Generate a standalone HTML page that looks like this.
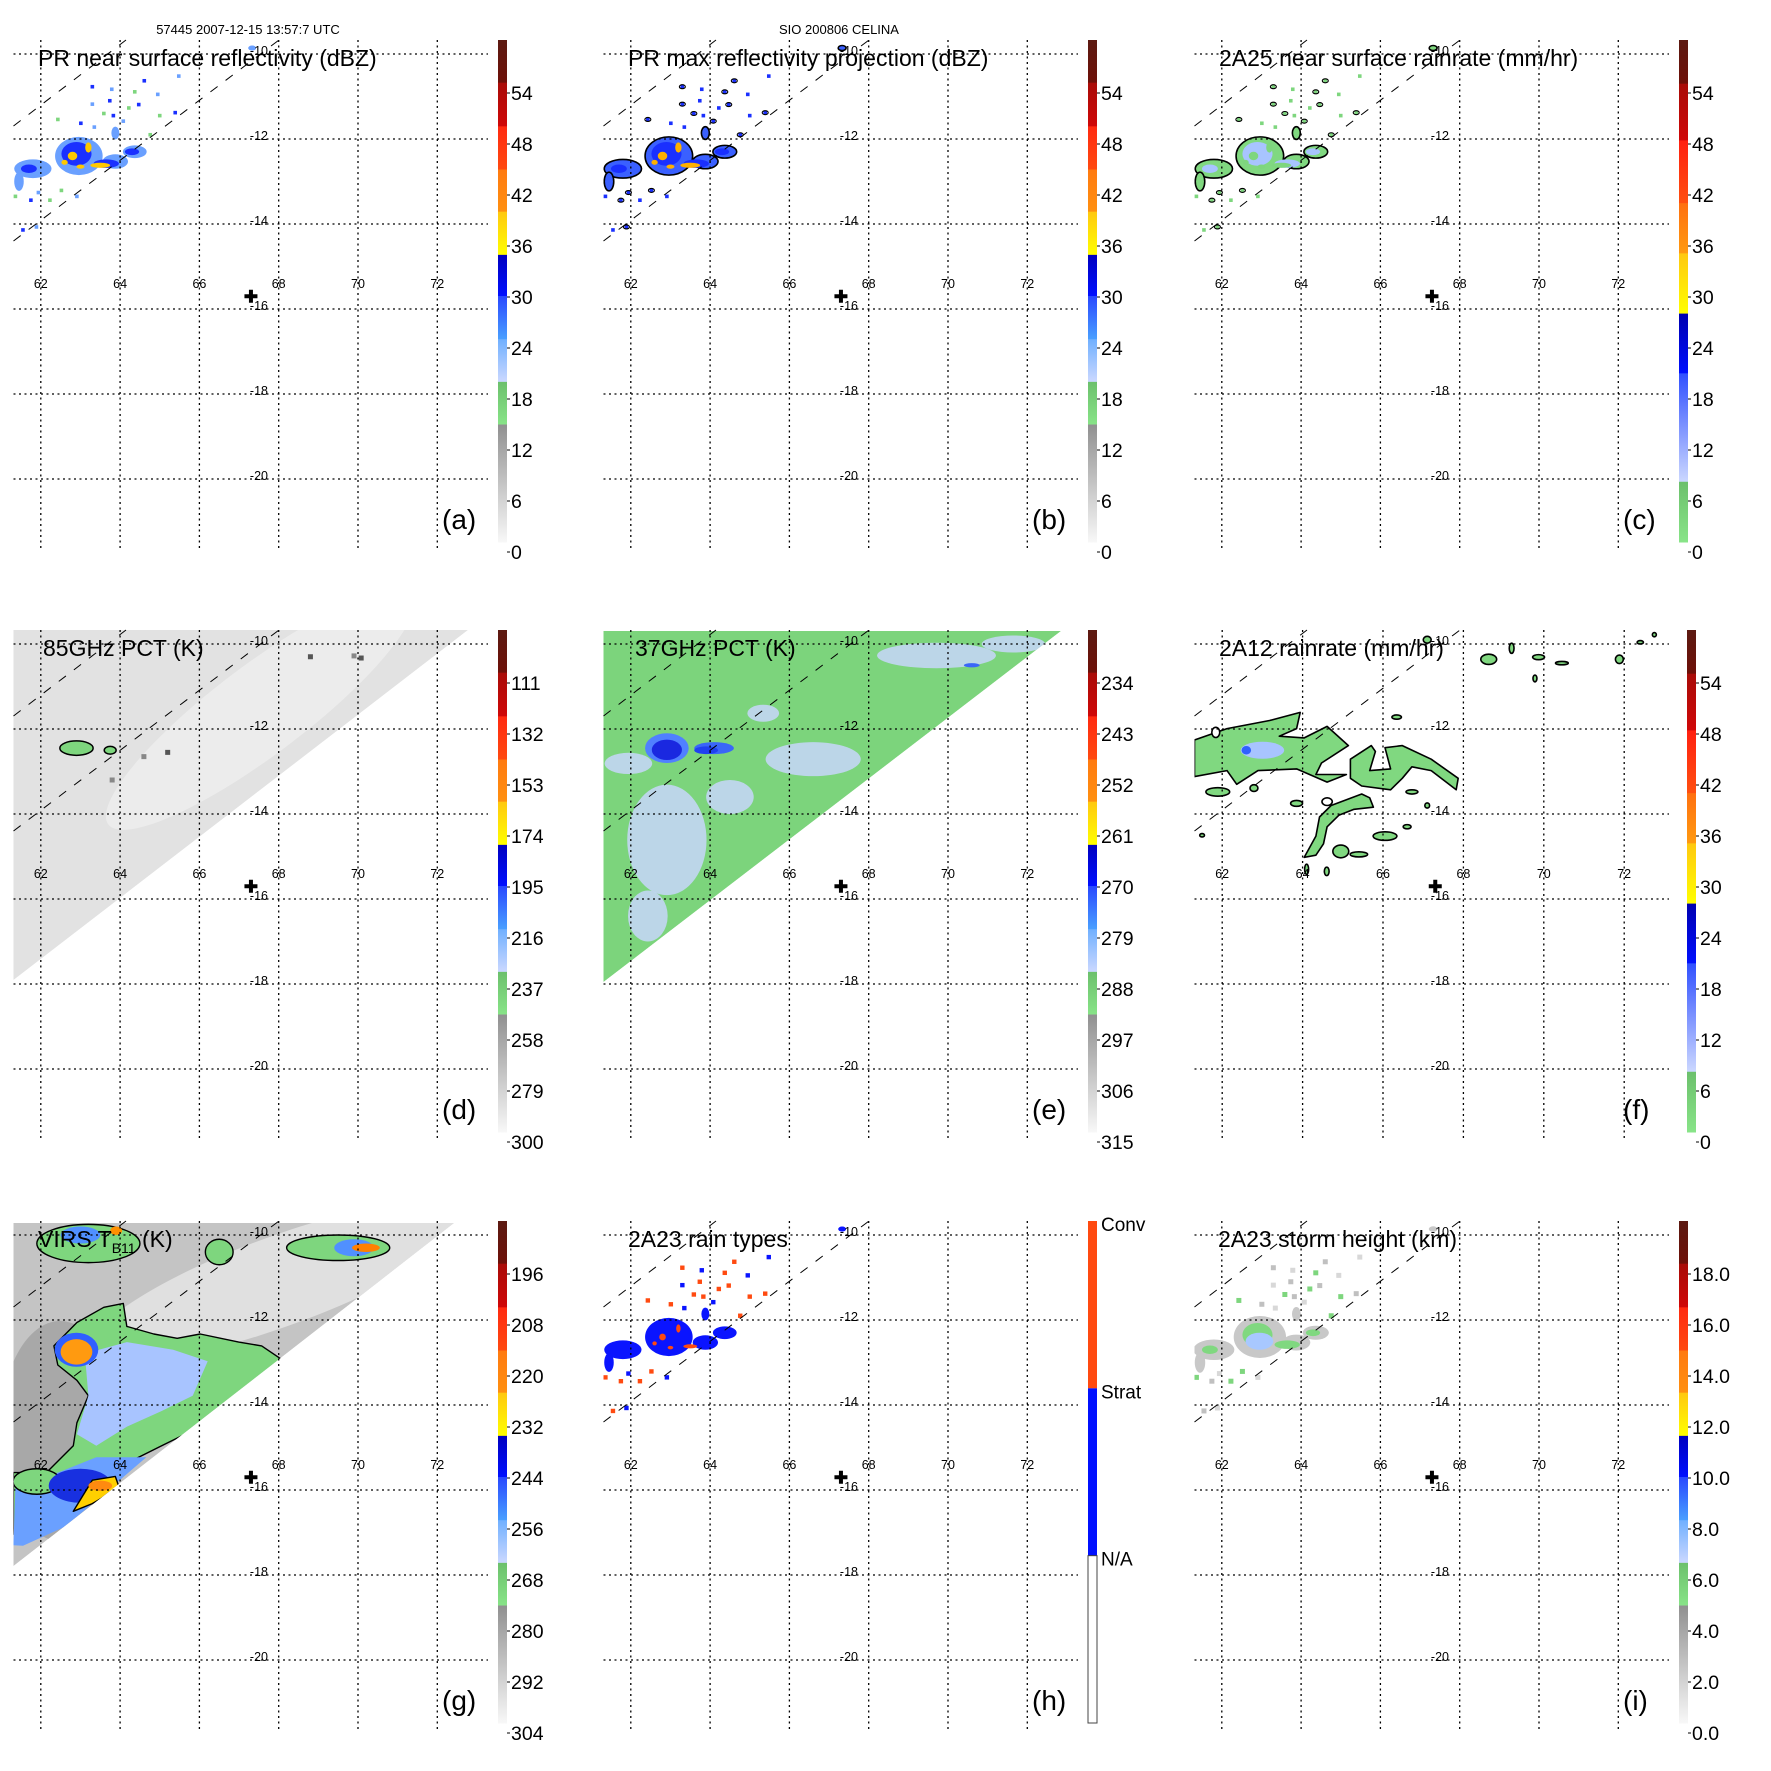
<!DOCTYPE html>
<html><head><meta charset="utf-8">
<style>
html,body{margin:0;padding:0;background:#fff;}
svg{display:block;font-family:"Liberation Sans",Arial,sans-serif;}
</style></head>
<body>
<svg id="fig" width="1771" height="1771" viewBox="0 0 1771 1771" xmlns="http://www.w3.org/2000/svg">
<text x="248" y="34" font-size="13" text-anchor="middle">57445 2007-12-15 13:57:7 UTC</text>
<text x="839" y="34" font-size="13" text-anchor="middle">SIO 200806 CELINA</text>
</svg>
<script>
// ---------- data arrays ----------
const lonTicks = [62, 64, 66, 68, 70, 72];
const latTicks = [-10, -12, -14, -16, -18, -20];
const stormCenter = [67.3, -15.7];

const cbLabelsDbz = ['54','48','42','36','30','24','18','12','6','0'];
const cbLabels85 = ['111','132','153','174','195','216','237','258','279','300'];
const cbLabels37 = ['234','243','252','261','270','279','288','297','306','315'];
const cbLabelsIr = ['196','208','220','232','244','256','268','280','292','304'];
const cbLabelsHt = ['18.0','16.0','14.0','12.0','10.0','8.0','6.0','4.0','2.0','0.0'];
const cbLabelsType = ['Conv','Strat','N/A'];

// PR rain blobs [lon, lat, rxDeg, ryDeg]
const prArea = [[62.96,-12.40,0.6,0.45],[63.88,-12.53,0.32,0.17],[64.37,-12.3,0.3,0.15],[61.8,-12.7,0.47,0.22],[63.88,-11.86,0.1,0.15],[61.45,-13.0,0.12,0.22],[67.33,-9.86,0.1,0.06]];
const prCore = [[62.9,-12.35,0.38,0.28],[63.65,-12.58,0.32,0.1],[64.3,-12.3,0.18,0.08],[61.7,-12.7,0.2,0.1]];
const prHot = [[62.8,-12.4,0.12,0.1],[63.2,-12.2,0.08,0.12],[63.5,-12.62,0.25,0.06],[62.6,-12.55,0.08,0.06],[63.0,-12.65,0.1,0.05]];
const prSpecks = [[63.30,-10.77],[63.79,-10.83],[64.37,-10.89],[63.74,-11.10],[63.30,-11.18],[64.22,-11.27],[64.47,-11.19],[64.95,-10.95],[63.59,-11.40],[63.83,-11.45],[64.08,-11.58],[65.00,-11.45],[65.39,-11.38],[63.35,-11.72],[62.43,-11.54],[63.01,-11.63],[61.94,-13.26],[62.23,-13.44],[61.75,-13.44],[62.91,-13.35],[62.52,-13.21],[61.55,-14.14],[61.89,-14.07],[61.36,-13.35],[64.61,-10.63],[65.48,-10.52],[64.76,-11.90]];

// 2A12 contour regions [lon,lat]
const f12Main = [[61.31,-12.26],[62.12,-11.99],[63.18,-11.80],[63.94,-11.61],[63.85,-11.99],[63.42,-12.17],[64.04,-12.21],[64.61,-11.94],[65.14,-12.39],[64.47,-12.80],[64.33,-13.07],[65.09,-13.07],[64.61,-13.25],[63.85,-12.94],[62.89,-12.98],[62.36,-13.30],[62.12,-12.98],[61.31,-13.12]];
const f12East = [[65.19,-12.71],[65.71,-12.39],[65.81,-12.53],[65.67,-12.98],[66.19,-12.94],[66.05,-12.44],[66.48,-12.39],[67.20,-12.71],[67.87,-13.16],[67.82,-13.43],[67.20,-12.98],[66.72,-12.89],[66.48,-13.16],[66.19,-13.43],[65.47,-13.34],[65.19,-13.16]];
const f12South = [[64.04,-15.02],[64.33,-14.52],[64.42,-14.07],[64.71,-13.80],[65.47,-13.53],[65.67,-13.62],[65.76,-13.84],[65.28,-13.89],[64.90,-14.03],[64.61,-14.30],[64.52,-14.70],[64.33,-14.97]];
const f12Small = [[61.89,-13.48,0.3,0.1],[62.79,-13.39,0.1,0.08],[63.85,-13.75,0.15,0.07],[64.95,-14.88,0.2,0.15],[65.4,-14.95,0.22,0.06],[66.05,-14.52,0.3,0.1],[66.6,-14.3,0.1,0.05],[66.34,-11.72,0.12,0.05],[67.1,-9.9,0.1,0.08],[68.63,-10.36,0.2,0.12],[69.2,-10.1,0.06,0.12],[69.87,-10.31,0.15,0.06],[70.45,-10.45,0.16,0.04],[69.78,-10.81,0.05,0.08],[71.88,-10.36,0.1,0.1],[72.4,-9.96,0.08,0.04],[72.75,-9.78,0.05,0.05],[66.72,-13.48,0.15,0.05],[67.1,-13.8,0.06,0.06],[64.1,-15.3,0.05,0.12],[64.6,-15.35,0.06,0.1],[61.5,-14.5,0.06,0.04]];

// 37 GHz light-blue regions [lon,lat,rx,ry]
const e37Light = [[62.91,-14.61,1.0,1.3],[62.43,-16.4,0.5,0.6],[66.6,-12.71,1.2,0.4],[69.71,-10.27,1.5,0.3],[71.65,-10.0,0.8,0.2],[61.94,-12.81,0.6,0.25],[65.34,-11.63,0.4,0.2],[64.5,-13.6,0.6,0.4]];
const e37Blue = [[62.91,-12.45,0.55,0.35,'#5080ff'],[64.1,-12.45,0.5,0.14,'#3a66f8'],[62.91,-12.49,0.38,0.24,'#1a28e0'],[63.9,-12.5,0.3,0.09,'#2040f0'],[70.6,-10.5,0.2,0.05,'#3a66f8']];

// VIRS regions
const gGreen = [[62.33,-12.61],[62.91,-12.06],[63.59,-11.70],[64.08,-11.61],[64.17,-12.15],[64.85,-12.33],[65.44,-12.43],[66.02,-12.33],[66.99,-12.52],[67.57,-12.61],[68.06,-12.92],[67.28,-13.78],[66.02,-14.51],[65.05,-14.96],[64.08,-15.41],[63.20,-15.86],[62.43,-16.41],[61.75,-16.86],[61.31,-17.04],[61.31,-15.59],[62.14,-15.59],[62.82,-14.96],[62.91,-14.42],[63.20,-13.78],[62.91,-13.42],[62.43,-13.06]];
const gBlue1 = [[63.11,-12.79],[64.17,-12.52],[65.34,-12.70],[66.21,-12.97],[65.83,-13.78],[65.05,-14.14],[64.17,-14.51],[63.40,-14.96],[62.91,-14.69],[63.20,-13.78]];
const gBlue2 = [[61.36,-15.95],[62.43,-15.59],[63.40,-15.23],[64.66,-15.23],[63.88,-15.86],[62.62,-16.86],[61.55,-17.31],[61.31,-17.3]];
const gOrange = [[62.82,-16.5],[63.30,-15.77],[63.88,-15.68],[63.98,-15.95],[63.30,-16.32]];
const gBlobs = [[63.2,-10.2,1.3,0.45,'#7ed67e'],[63.0,-10.0,0.5,0.2,'#5090ff'],[63.9,-9.9,0.15,0.1,'#ff9000'],[66.5,-10.4,0.35,0.3,'#7ed67e'],[69.5,-10.3,1.3,0.3,'#7ed67e'],[69.9,-10.3,0.5,0.2,'#5090ff'],[70.2,-10.3,0.35,0.1,'#ff8000'],[61.9,-15.8,0.6,0.3,'#7ed67e'],[62.9,-12.7,0.55,0.4,'#3060ff'],[62.9,-12.75,0.4,0.3,'#ff9a10'],[63.0,-15.9,0.8,0.4,'#1830e0']];

// ---------- geometry ----------
const svg = document.getElementById('fig');
const NS = 'http://www.w3.org/2000/svg';
function el(tag, attrs, parent){
  const e = document.createElementNS(NS, tag);
  for (const k in attrs) e.setAttribute(k, attrs[k]);
  (parent||svg).appendChild(e);
  return e;
}
function mkX(p){ return lon => p.ox + p.x0 + (lon - 62) * p.dx; }
function mkY(p){ return lat => p.oy + 54 + (-10 - lat) * 42.5; }

const stdBands = [[0,.085,'#5c1a12','#6e1008'],[.085,.172,'#a80c08','#d00808'],[.172,.258,'#ff2a10','#ff4a10'],[.258,.342,'#ff7a10','#ff9010'],[.342,.428,'#ffc810','#ffff00'],[.428,.51,'#0000c0','#0010ff'],[.51,.596,'#2848ff','#4aa0ff'],[.596,.681,'#70b0ff','#ccd8ff'],[.681,.766,'#6cc06c','#88e488'],[.766,1,'#909090','#f8f8f8']];
const rainBands = [[0,.087,'#5c1a12','#6e1008'],[.087,.2,'#a80c08','#d00808'],[.2,.325,'#ff2010','#ff5010'],[.325,.425,'#ff7010','#ff9a10'],[.425,.545,'#ffc810','#ffff00'],[.545,.664,'#0000b0','#0010ff'],[.664,.88,'#3050ff','#ccd8ff'],[.88,1,'#6cc06c','#88e488']];

let gid = 0;
function panel(p){
  const X = mkX(p), Y = mkY(p);
  const g = el('g', {}); 
  
  
  const cid = 'clip' + (gid++);
  const cp = el('clipPath', {id: cid}, g);
  el('rect', {x: p.ox+13.5, y: p.oy+40, width: 475, height: 511}, cp);
  const data = el('g', {'clip-path': 'url(#'+cid+')'}, g);
  
  
  p.draw(data, X, Y);

  const grid = el('g', {stroke:'#000','stroke-width':1.3,'stroke-dasharray':'2,3.5',fill:'none'}, g);
  
  
  lonTicks.forEach(lon => el('line', {x1:X(lon), x2:X(lon), y1:p.oy+40, y2:p.oy+551}, grid));
  latTicks.forEach(lat => el('line', {x1:p.ox+13.5, x2:p.ox+488, y1:Y(lat), y2:Y(lat)}, grid));
  if (p.swath){
    const sw = el('g', {stroke:'#000','stroke-width':1,'stroke-dasharray':'9,10'}, g);
    
    
    el('line', {x1:p.ox+13.5, y1:p.oy+126, x2:p.ox+126, y2:p.oy+40}, sw);
    el('line', {x1:p.ox+13.5, y1:p.oy+241, x2:p.ox+279, y2:p.oy+40}, sw);
  }
  lonTicks.forEach(lon => {
    const t = el('text', {x:X(lon), y:p.oy+288, 'font-size':12.5, 'text-anchor':'middle'}, g);
    t.textContent = lon;
    
    
  });
  latTicks.forEach(lat => {
    const t = el('text', {x:p.ox+268, y:Y(lat)+1, 'font-size':12.5, 'text-anchor':'end'}, g);
    t.textContent = lat;
    
    
  });
  const cx = X(stormCenter[0]), cy = Y(stormCenter[1]);
  const cr = el('path', {d:`M${cx-6.5},${cy}H${cx+6.5}M${cx},${cy-6.5}V${cy+6.5}`, stroke:'#000','stroke-width':4}, g);
  
  
  const tt = el('text', {x:p.ox+p.tx, y:p.oy+66, 'font-size':23}, g);
  tt.innerHTML = p.title;
  
  
  const lt = el('text', {x:p.ox+442, y:p.oy+529, 'font-size':28}, g);
  lt.textContent = '(' + p.letter + ')';
  
  
  const cb = el('g', {}, g);
  
  
  const bx = p.ox + p.cbx, by = p.oy + 40, bh = 502, bw = 9;
  if (p.type){
    el('rect', {x:bx, y:by, width:bw, height:bh/3, fill:'#ff4a10'}, cb);
    el('rect', {x:bx, y:by+bh/3, width:bw, height:bh/3, fill:'#0010ff'}, cb);
    el('rect', {x:bx, y:by+2*bh/3, width:bw, height:bh/3, fill:'#fff', stroke:'#444','stroke-width':1}, cb);
    cbLabelsType.forEach((s,i) => {
      const t = el('text', {x:bx+13, y:by+10+i*bh/3, 'font-size':19}, cb);
      t.textContent = s;
      
      
    });
  } else {
    p.bands.forEach((b,i) => {
      const id = 'gr' + (gid++);
      const lg = el('linearGradient', {id:id, x1:0, y1:0, x2:0, y2:1}, cb);
      el('stop', {offset:0, 'stop-color':b[2]}, lg);
      el('stop', {offset:1, 'stop-color':b[3]}, lg);
      el('rect', {x:bx, y:by+b[0]*bh, width:bw, height:(b[1]-b[0])*bh+0.5, fill:'url(#'+id+')'}, cb);
    });
    p.labels.forEach((s,i) => {
      const yy = p.oy + 93 + i*51;
      el('line', {x1:bx+bw, x2:bx+bw+3, y1:yy, y2:yy, stroke:'#000','stroke-width':1}, cb);
      const t = el('text', {x:bx+13, y:yy+7, 'font-size':19.5}, cb);
      t.textContent = s;
      
      
    });
  }
}

function ell(parent, X, Y, b, fill, extra){
  const a = {cx:X(b[0]), cy:Y(b[1]), rx:b[2]*39.65, ry:b[3]*42.5, fill:fill};
  if (extra) Object.assign(a, extra);
  return el('ellipse', a, parent);
}
function poly(parent, X, Y, pts, fill, extra){
  const a = {points: pts.map(q => X(q[0]).toFixed(1)+','+Y(q[1]).toFixed(1)).join(' '), fill:fill};
  if (extra) Object.assign(a, extra);
  return el('polygon', a, parent);
}
function specks(parent, X, Y, list, colors, r){
  list.forEach((q,i) => el('rect', {x:X(q[0])-r, y:Y(q[1])-r, width:2*r, height:2*r, fill:colors[i % colors.length]}, parent));
}
function prDraw(cArea, cCore, cHot, cSpeck, contour){
  return (d, X, Y) => {
    const ex = contour ? {stroke:'#000','stroke-width':1.6} : null;
    prArea.forEach(b => ell(d, X, Y, b, cArea, ex));
    prCore.forEach(b => ell(d, X, Y, b, cCore));
    prHot.forEach(b => ell(d, X, Y, b, cHot));
    specks(d, X, Y, prSpecks, cSpeck, 1.8);
    if (contour) prSpecks.forEach((q,i) => { if (i % 2 === 0) el('ellipse', {cx:X(q[0]), cy:Y(q[1]), rx:3, ry:2, fill:'none', stroke:'#000','stroke-width':1.1}, d); });
  };
}
// swath region group clipped to swath polygon
function swathGroup(d, p, pts, fill){
  const id = 'sw' + (gid++);
  const cp = el('clipPath', {id:id}, d);
  const ptsStr = pts.map(q => (p.ox+q[0])+','+(p.oy+q[1])).join(' ');
  el('polygon', {points: ptsStr}, cp);
  const sg = el('g', {'clip-path':'url(#'+id+')'}, d);
  el('polygon', {points: ptsStr, fill:fill}, sg);
  return sg;
}

const C = [0, 590, 1181];
const panels = [
  {letter:'a', ox:C[0], oy:C[0], title:'PR near surface reflectivity (dBZ)', tx:38, bands:stdBands, labels:cbLabelsDbz, swath:true,
   draw: prDraw('#6aa0ff', '#1a30ff', '#ffc800', ['#1a30ff','#6aa0ff','#7ed67e'], false)},
  {letter:'b', ox:C[1], oy:C[0], title:'PR max reflectivity projection (dBZ)', tx:38, bands:stdBands, labels:cbLabelsDbz, swath:true,
   draw: prDraw('#3a60ff', '#1a30ff', '#ffb000', ['#1a30ff'], true)},
  {letter:'c', ox:C[2], oy:C[0], title:'2A25 near surface rainrate (mm/hr)', tx:38, bands:rainBands, labels:cbLabelsDbz, swath:true,
   draw: prDraw('#80d880', '#a8c4ff', '#7ed67e', ['#7ed67e'], true)},
  {letter:'d', ox:C[0], oy:C[1], title:'85GHz PCT (K)', tx:43, bands:stdBands, labels:cbLabels85, swath:true,
   draw: (d, X, Y) => {
     const p = panels[3];
     const sg = swathGroup(d, p, [[13.5,40],[468,40],[13.5,390]], '#e2e2e2');
     el('ellipse', {cx:p.ox+260, cy:p.oy+120, rx:190, ry:45, fill:'#ececec', transform:`rotate(-37 ${p.ox+260} ${p.oy+120})`}, sg);
     ell(d, X, Y, [62.9,-12.45,0.42,0.17], '#7ed67e', {stroke:'#000','stroke-width':1.5});
     ell(d, X, Y, [63.75,-12.5,0.15,0.09], '#7ed67e', {stroke:'#000','stroke-width':1.5});
     specks(d, X, Y, [[70.08,-10.33],[69.9,-10.28],[68.8,-10.3],[64.6,-12.65],[65.2,-12.55],[63.8,-13.2]], ['#555','#888'], 2.5);
   }},
  {letter:'e', ox:C[1], oy:C[1], title:'37GHz PCT (K)', tx:45, bands:stdBands, labels:cbLabels37, swath:true,
   draw: (d, X, Y) => {
     const p = panels[4];
     const sg = swathGroup(d, p, [[13.5,41],[471,41],[13.5,392]], '#7cd47c');
     e37Light.forEach(b => ell(sg, X, Y, b, '#c8d6fb', {opacity:0.85}));
     e37Blue.forEach(b => ell(sg, X, Y, b, b[4]));
   }},
  {letter:'f', ox:C[2], oy:C[1], title:'2A12 rainrate (mm/hr)', tx:38, bands:rainBands, labels:cbLabelsDbz, swath:true,
   draw: (d, X, Y) => {
     const ex = {stroke:'#000','stroke-width':1.6,'stroke-linejoin':'round'};
     [f12Main, f12East, f12South].forEach(r => poly(d, X, Y, r, '#80d880', ex));
     f12Small.forEach(b => ell(d, X, Y, b, '#80d880', ex));
     ell(d, X, Y, [63.0,-12.5,0.55,0.2], '#a8c4ff');
     ell(d, X, Y, [62.6,-12.5,0.12,0.1], '#3060ff');
     ell(d, X, Y, [61.84,-12.08,0.1,0.12], '#fff', ex);
     ell(d, X, Y, [64.61,-13.71,0.13,0.09], '#fff', ex);
   }},
  {letter:'g', ox:C[0], oy:C[2], title:'VIRS T<tspan font-size="14" dy="6">B11</tspan><tspan dy="-6"> (K)</tspan>', tx:38, bands:stdBands, labels:cbLabelsIr, swath:true,
   draw: (d, X, Y) => {
     const p = panels[6];
     const sg = swathGroup(d, p, [[13.5,42],[454,42],[13.5,385]], '#c4c4c4');
     el('ellipse', {cx:p.ox+280, cy:p.oy+100, rx:200, ry:45, fill:'#e0e0e0', transform:`rotate(-20 ${p.ox+280} ${p.oy+100})`}, sg);
     el('ellipse', {cx:p.ox+60, cy:p.oy+250, rx:60, ry:110, fill:'#a8a8a8'}, sg);
     const ex = {stroke:'#000','stroke-width':1.4,'stroke-linejoin':'round'};
     poly(sg, X, Y, gGreen, '#7ed67e', ex);
     poly(sg, X, Y, gBlue1, '#a8c4ff');
     poly(sg, X, Y, gBlue2, '#6aa0ff');
     gBlobs.forEach(b => ell(sg, X, Y, b, b[4], b[4]==='#7ed67e' ? ex : null));
     poly(sg, X, Y, gOrange, '#ffd000', ex);
     ell(sg, X, Y, [63.5,-15.9,0.3,0.12], '#ff8a10');
   }},
  {letter:'h', ox:C[1], oy:C[2], title:'2A23 rain types', tx:38, type:true, swath:true,
   draw: (d, X, Y) => {
     prArea.forEach(b => ell(d, X, Y, b, '#0a14ff'));
     prHot.forEach(b => ell(d, X, Y, [b[0],b[1],b[2]*0.7,b[3]*0.8], '#ff4a10'));
     specks(d, X, Y, prSpecks, ['#ff4a10','#0a14ff','#ff4a10'], 2.2);
   }},
  {letter:'i', ox:C[2], oy:C[2], title:'2A23 storm height (km)', tx:37, bands:stdBands, labels:cbLabelsHt, swath:true,
   draw: (d, X, Y) => {
     prArea.forEach(b => ell(d, X, Y, [b[0],b[1],b[2]*1.1,b[3]*1.1], '#c8c8c8'));
     prCore.forEach(b => ell(d, X, Y, b, '#80d880'));
     ell(d, X, Y, [62.95,-12.5,0.35,0.2], '#a8c8ff');
     specks(d, X, Y, prSpecks, ['#c0c0c0','#d8d8d8','#7ed67e'], 2.5);
   }}
];
panels.forEach(p => {
  p.x0 = 40.8; p.dx = 39.65; p.cbx = 498;
  if (p.letter === 'f'){ p.x0 = 41.2; p.dx = 40.2; p.cbx = 506; }
  panel(p);
});
</script>
</body></html>
